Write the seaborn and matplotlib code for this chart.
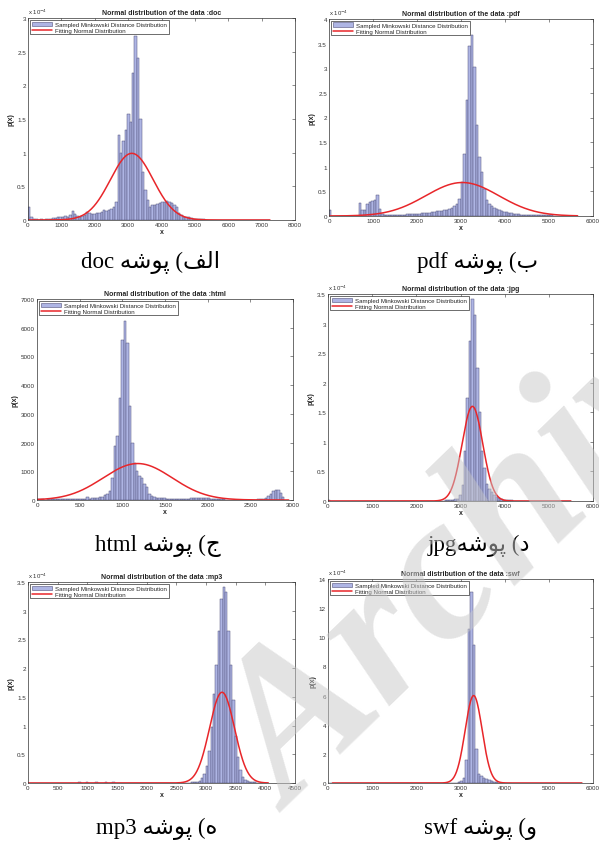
import numpy as np
import pandas as pd
import seaborn as sns
import matplotlib
matplotlib.use("Agg")
import matplotlib.pyplot as plt
from matplotlib.patches import Patch
from matplotlib.lines import Line2D
from matplotlib.ticker import FuncFormatter

# ---------------------------------------------------------------- data
# Histogram heights (one value per bin, equal-width bins starting at *_lo)
doc_lo, doc_width = 0.0, 72.5
doc_heights = [0.20, 0.05, 0.01, 0.01, 0.00, 0.01, 0.00, 0.01, 0.01, 0.02,
               0.03, 0.03, 0.04, 0.05, 0.05, 0.06, 0.05, 0.08, 0.13, 0.09,
               0.06, 0.05, 0.06, 0.08, 0.12, 0.10, 0.09, 0.09, 0.10, 0.10,
               0.12, 0.15, 0.14, 0.15, 0.17, 0.20, 0.27, 1.26, 1.00, 1.18,
               1.34, 1.58, 1.45, 2.18, 2.74, 2.40, 1.50, 0.72, 0.45, 0.30,
               0.20, 0.22, 0.22, 0.24, 0.25, 0.26, 0.27, 0.28, 0.27, 0.25,
               0.22, 0.20, 0.10, 0.07, 0.05, 0.05, 0.04, 0.03, 0.02, 0.02,
               0.01, 0.01, 0.01, 0.005, 0.005, 0.005, 0.005, 0.005, 0.005, 0.005,
               0.005, 0.005, 0.005, 0.005, 0.005, 0.005, 0.005, 0.005, 0.005, 0.005,
               0.005, 0.005, 0.005, 0.005, 0.005, 0.005, 0.005, 0.005, 0.005, 0.005]

pdf_lo, pdf_width = 0.0, 56.5
pdf_heights = [0.13, 0.00, 0.00, 0.00, 0.00, 0.00, 0.00, 0.00, 0.00, 0.00,
               0.00, 0.00, 0.27, 0.13, 0.13, 0.25, 0.28, 0.30, 0.32, 0.43,
               0.15, 0.05, 0.03, 0.02, 0.02, 0.02, 0.02, 0.03, 0.03, 0.03,
               0.03, 0.04, 0.04, 0.04, 0.05, 0.05, 0.05, 0.06, 0.06, 0.07,
               0.07, 0.08, 0.09, 0.10, 0.10, 0.11, 0.12, 0.13, 0.14, 0.16,
               0.20, 0.25, 0.35, 0.70, 1.26, 2.35, 3.46, 3.68, 3.02, 1.84,
               1.20, 0.90, 0.55, 0.32, 0.25, 0.20, 0.17, 0.14, 0.12, 0.10,
               0.09, 0.08, 0.07, 0.06, 0.05, 0.04, 0.04, 0.03, 0.03, 0.03,
               0.02, 0.02, 0.02, 0.02, 0.02, 0.02, 0.02, 0.02, 0.02, 0.02,
               0.01, 0.01, 0.01, 0.01, 0.01, 0.01, 0.01, 0.01, 0.01, 0.01]

html_lo, html_width = 0.0, 29.0
html_heights = [20, 25, 20, 15, 20, 20, 25, 30, 25, 20,
                30, 30, 35, 30, 40, 35, 40, 45, 40, 50,
                110, 45, 60, 70, 80, 100, 120, 170, 220, 300,
                750, 1870, 2240, 3560, 5560, 6250, 5480, 3280, 1970, 1300,
                1000, 850, 780, 560, 450, 200, 130, 100, 80, 70,
                60, 60, 50, 50, 50, 45, 45, 40, 40, 45,
                45, 50, 55, 60, 65, 70, 70, 75, 70, 60,
                50, 40, 35, 30, 25, 20, 15, 15, 10, 10,
                10, 10, 10, 10, 10, 10, 10, 15, 15, 20,
                20, 30, 60, 140, 200, 320, 350, 340, 250, 100]

jpg_lo, jpg_width = 0.0, 55.0
jpg_heights = [0.01, 0.005, 0.005, 0.00, 0.00, 0.00, 0.00, 0.00, 0.00, 0.00,
               0.00, 0.00, 0.00, 0.00, 0.00, 0.00, 0.00, 0.00, 0.00, 0.00,
               0.00, 0.00, 0.005, 0.00, 0.00, 0.00, 0.00, 0.00, 0.00, 0.00,
               0.00, 0.00, 0.00, 0.00, 0.005, 0.00, 0.00, 0.00, 0.00, 0.00,
               0.00, 0.005, 0.00, 0.00, 0.005, 0.00, 0.005, 0.005, 0.01, 0.01,
               0.01, 0.02, 0.03, 0.04, 0.10, 0.27, 0.85, 1.75, 2.70, 3.42,
               3.15, 2.25, 1.50, 0.85, 0.55, 0.28, 0.20, 0.15, 0.10, 0.07,
               0.05, 0.03, 0.02, 0.01, 0.01, 0.01, 0.005, 0.005, 0.005, 0.005,
               0.005, 0.005, 0.005, 0.005, 0.005, 0.00, 0.00, 0.005, 0.00, 0.00,
               0.00, 0.00, 0.00, 0.005, 0.00, 0.00, 0.00, 0.00, 0.00, 0.005]

mp3_lo, mp3_width = 0.0, 40.5
mp3_heights = [0.00, 0.00, 0.00, 0.00, 0.00, 0.00, 0.00, 0.00, 0.00, 0.00,
               0.00, 0.00, 0.00, 0.00, 0.00, 0.00, 0.00, 0.00, 0.00, 0.005,
               0.005, 0.01, 0.005, 0.005, 0.01, 0.005, 0.005, 0.005, 0.01, 0.005,
               0.005, 0.005, 0.01, 0.005, 0.005, 0.01, 0.005, 0.00, 0.005, 0.00,
               0.00, 0.00, 0.00, 0.00, 0.00, 0.00, 0.00, 0.00, 0.00, 0.00,
               0.00, 0.00, 0.00, 0.00, 0.00, 0.00, 0.00, 0.00, 0.00, 0.00,
               0.00, 0.00, 0.00, 0.00, 0.00, 0.00, 0.005, 0.005, 0.01, 0.01,
               0.02, 0.04, 0.08, 0.15, 0.30, 0.55, 0.97, 1.55, 2.05, 2.65,
               3.20, 3.42, 3.32, 2.65, 2.05, 1.45, 0.82, 0.45, 0.22, 0.10,
               0.05, 0.03, 0.02, 0.01, 0.01, 0.005, 0.005, 0.005, 0.005, 0.005]

swf_lo, swf_width = 0.0, 57.5
swf_heights = [0.00, 0.00, 0.00, 0.00, 0.00, 0.00, 0.00, 0.00, 0.00, 0.00,
               0.00, 0.00, 0.00, 0.00, 0.00, 0.00, 0.00, 0.00, 0.00, 0.00,
               0.00, 0.00, 0.00, 0.00, 0.00, 0.00, 0.00, 0.00, 0.00, 0.00,
               0.02, 0.02, 0.02, 0.00, 0.00, 0.00, 0.00, 0.00, 0.00, 0.00,
               0.00, 0.00, 0.00, 0.00, 0.00, 0.00, 0.00, 0.00, 0.00, 0.02,
               0.03, 0.05, 0.12, 0.35, 1.60, 10.6, 13.1, 9.50, 2.30, 0.60,
               0.45, 0.35, 0.25, 0.18, 0.12, 0.08, 0.05, 0.03, 0.02, 0.02,
               0.01, 0.01, 0.01, 0.01, 0.00, 0.00, 0.00, 0.00, 0.00, 0.00,
               0.00, 0.00, 0.00, 0.00, 0.00, 0.00, 0.00, 0.00, 0.00, 0.00,
               0.00, 0.00, 0.00, 0.00, 0.00, 0.00, 0.00, 0.00, 0.00, 0.00]

# Fitted normal curves: mean, standard deviation, peak height, x-extent
doc_fit = dict(mu=3110, sigma=640, peak=0.99, x0=0, x1=7250)
pdf_fit = dict(mu=3030, sigma=830, peak=0.68, x0=0, x1=5650)
html_fit = dict(mu=1180, sigma=405, peak=1270, x0=0, x1=2950)
jpg_fit = dict(mu=3270, sigma=234, peak=1.60, x0=0, x1=5500)
mp3_fit = dict(mu=3270, sigma=210, peak=1.58, x0=0, x1=4050)
swf_fit = dict(mu=3298, sigma=192, peak=6.00, x0=100, x1=5750)

file_types = ["doc", "pdf", "html", "jpg", "mp3", "swf"]
x_limits = [8000, 6000, 3000, 6000, 4500, 6000]
x_steps = [1000, 1000, 500, 1000, 500, 1000]
y_limits = [3.0, 4.0, 7000, 3.5, 3.5, 14]
y_steps = [0.5, 0.5, 1000, 0.5, 0.5, 2]
y_multipliers = [r"x 10$^{-4}$", r"x 10$^{-4}$", None,
                 r"x 10$^{-4}$", r"x 10$^{-4}$", r"x 10$^{-4}$"]

# Persian captions, written with contextual letter forms in display order
PEH_VOV_SHIN_HEH = "\uFEEA\uFEB7\uFEEE\uFB58"
captions = [
    "doc " + PEH_VOV_SHIN_HEH + " (\uFED2\uFEDF\uFE8D",
    "pdf " + PEH_VOV_SHIN_HEH + " (\uFE8F",
    "html " + PEH_VOV_SHIN_HEH + " (\uFE9D",
    "jpg" + PEH_VOV_SHIN_HEH + " (\uFEA9",
    "mp3 " + PEH_VOV_SHIN_HEH + " (\uFEE9",
    "swf " + PEH_VOV_SHIN_HEH + " (\uFEED",
]

hist_data = {
    "doc": (doc_lo, doc_width, doc_heights, doc_fit),
    "pdf": (pdf_lo, pdf_width, pdf_heights, pdf_fit),
    "html": (html_lo, html_width, html_heights, html_fit),
    "jpg": (jpg_lo, jpg_width, jpg_heights, jpg_fit),
    "mp3": (mp3_lo, mp3_width, mp3_heights, mp3_fit),
    "swf": (swf_lo, swf_width, swf_heights, swf_fit),
}

# ---------------------------------------------------------------- style
sns.set_theme(style="white")
plt.rcParams.update({
    "font.family": ["Liberation Sans", "DejaVu Sans"],
    "xtick.direction": "in", "ytick.direction": "in",
    "xtick.top": True, "ytick.right": True,
    "xtick.major.size": 2.2, "ytick.major.size": 2.2,
    "xtick.major.width": 0.4, "ytick.major.width": 0.4,
    "xtick.major.pad": 1.5, "ytick.major.pad": 1.5,
    "axes.linewidth": 0.5, "axes.edgecolor": "#333333",
    "xtick.color": "#333333", "ytick.color": "#333333",
})

BAR_FILL = "#aeb5e4"
BAR_EDGE = "#50507a"
FIT_RED = "#e8262a"

W, H = 599, 845
fig = plt.figure(figsize=(W / 100, H / 100), dpi=100)

# axes boxes in pixels: left, top, right, bottom
boxes = [(28, 19, 295, 221), (329, 20, 593, 217),
         (37, 300, 293, 501), (328, 295, 593, 502),
         (28, 583, 295, 784), (328, 580, 593, 784)]
caption_xy = [(151, 263), (478, 263), (158, 546), (479, 546),
              (157, 829), (480, 829)]

for i, name in enumerate(file_types):
    l, t, r, b = boxes[i]
    ax = fig.add_axes([l / W, 1 - b / H, (r - l) / W, (b - t) / H])
    lo, width, heights, fit = hist_data[name]
    edges = lo + width * np.arange(len(heights) + 1)
    centers = (edges[:-1] + edges[1:]) / 2
    df = pd.DataFrame({"x": centers, "h": heights})
    sns.histplot(data=df, x="x", weights="h", bins=edges.tolist(), ax=ax,
                 stat="count", color=BAR_FILL, edgecolor=BAR_EDGE,
                 linewidth=0.35, alpha=1.0)

    xs = np.linspace(fit["x0"], fit["x1"], 600)
    ys = fit["peak"] * np.exp(-0.5 * ((xs - fit["mu"]) / fit["sigma"]) ** 2)
    sns.lineplot(x=xs, y=ys, ax=ax, color=FIT_RED, linewidth=1.1,
                 estimator=None, sort=False)

    ax.set_xlim(0, x_limits[i])
    ax.set_ylim(0, y_limits[i])
    ax.set_xticks(np.arange(0, x_limits[i] + 1, x_steps[i]))
    ax.set_yticks(np.arange(0, y_limits[i] + 1e-9, y_steps[i]))
    ax.xaxis.set_major_formatter(FuncFormatter(lambda v, p: f"{v:g}"))
    ax.yaxis.set_major_formatter(FuncFormatter(lambda v, p: f"{v:g}"))
    ax.tick_params(labelsize=4.5, colors="#333333")
    ax.set_xlabel("x", fontsize=5, fontweight="bold", labelpad=1)
    ax.set_ylabel("p(x)", fontsize=5, fontweight="bold", labelpad=2)
    ax.set_title(f"Normal distribution of the data :{name}", fontsize=5,
                 fontweight="bold", pad=3)
    if y_multipliers[i]:
        ax.text(0, 1.008, y_multipliers[i], transform=ax.transAxes,
                fontsize=4.3, ha="left", va="bottom", color="#333333")

    handles = [Patch(facecolor=BAR_FILL, edgecolor=BAR_EDGE, linewidth=0.4),
               Line2D([0], [0], color=FIT_RED, linewidth=1.1)]
    leg = ax.legend(handles, ["Sampled Minkowski Distance Distribution",
                              "Fitting Normal Distribution"],
                    loc="upper left", bbox_to_anchor=(0.008, 0.99),
                    fontsize=4.4, handlelength=3.4, handletextpad=0.5,
                    borderpad=0.25, labelspacing=0.1, borderaxespad=0,
                    fancybox=False, framealpha=1, edgecolor="#333333")
    leg.get_frame().set_linewidth(0.5)

    cx, cy = caption_xy[i]
    fig.text(cx / W, 1 - cy / H, captions[i], ha="center", va="center",
             fontsize=16.5, family=["Liberation Serif", "DejaVu Sans"],
             color="black")

# faint diagonal watermark across the lower right of the page
fig.text(497 / W, 1 - 543 / H, "Archive", rotation=44, ha="center",
         va="center", fontsize=150, fontweight="bold", fontstyle="italic",
         family=["Liberation Serif"], color="#c8c8c8", alpha=0.5,
         zorder=20)

fig.savefig("out.png", dpi=100)
